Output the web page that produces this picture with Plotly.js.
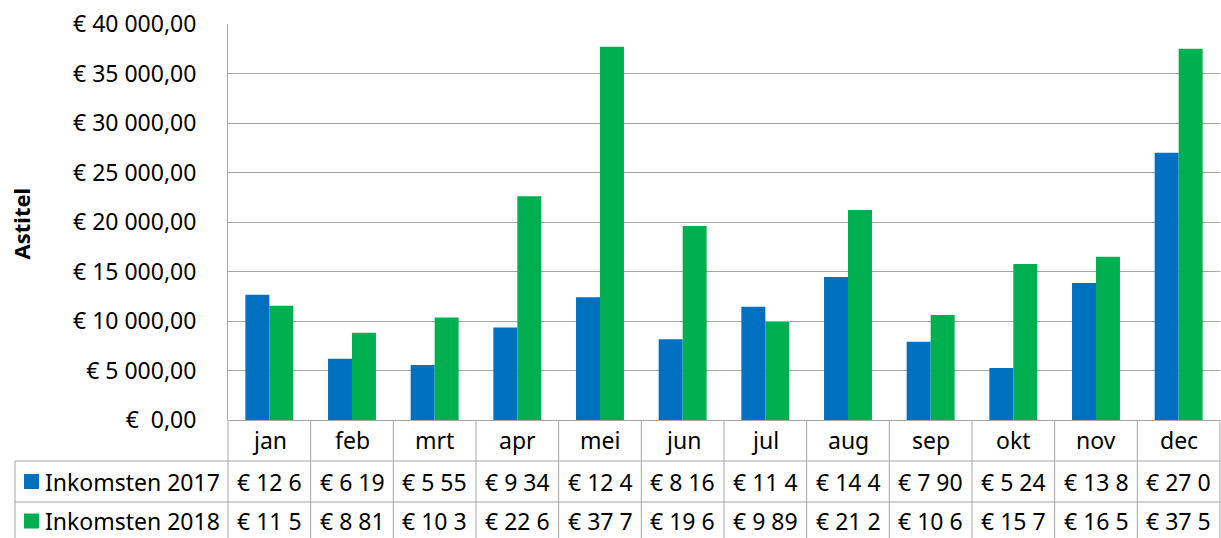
<!DOCTYPE html>
<html>
<head>
<meta charset="utf-8">
<script src="https://cdn.plot.ly/plotly-3.0.1.min.js"></script>
<style>html,body{margin:0;padding:0;background:#fff;}#chart{width:1221px;height:538px;}</style>
</head>
<body>
<div id="chart"></div>
<script>
const months = ['jan','feb','mrt','apr','mei','jun','jul','aug','sep','okt','nov','dec'];
const seriesNames = ['Inkomsten 2017','Inkomsten 2018'];
const inkomsten2017 = [12650, 6190, 5550, 9340, 12400, 8160, 11450, 14450, 7900, 5240, 13850, 27000];
const inkomsten2018 = [11550, 8810, 10350, 22600, 37700, 19600, 9890, 21200, 10600, 15750, 16500, 37500];
const yTickVals = [0, 5000, 10000, 15000, 20000, 25000, 30000, 35000, 40000];
const colors = ['#0070C0', '#00B050'];
const yTitle = 'Astitel';

const FONT = '"Noto Sans", "Open Sans", sans-serif';
const FS = 23;
const NB = '\u00a0';

function fmtEuro(v) {
  const whole = Math.round(v).toString().replace(/\B(?=(\d{3})+(?!\d))/g, NB);
  return '€' + NB + whole + ',00';
}
function yLabel(v) {
  return v === 0 ? '€' + NB + NB + '0,00' : fmtEuro(v);
}
function cellText(v) {
  return fmtEuro(v).slice(0, 6);
}

const W = 1221, H = 538;
const mL = 228, mR = 1, mT = 24, mB = 118;
const plotW = W - mL - mR, plotH = H - mT - mB;
const row1Top = 461, row2Top = 502, tableLeft = 15;
function py(px) { return (H - mB - px) / plotH; }   // pixel y -> paper y
function pxX(px) { return (px - mL) / plotW; }     // pixel x -> paper x

const gridCol = '#a6a6a6';

const traces = [inkomsten2017, inkomsten2018].map((vals, i) => ({
  type: 'bar',
  name: seriesNames[i],
  x: months,
  y: vals,
  marker: { color: colors[i], line: { width: 0 } },
  hoverinfo: 'x+y'
}));

const shapes = [];
for (let k = 0; k <= months.length; k++) {
  shapes.push({ type: 'line', xref: 'x domain', yref: 'paper',
    x0: k / months.length, x1: k / months.length, y0: py(H), y1: 0,
    line: { color: gridCol, width: 1 } });
}
shapes.push({ type: 'line', xref: 'paper', yref: 'paper',
  x0: pxX(tableLeft), x1: pxX(tableLeft), y0: py(H), y1: py(row1Top),
  line: { color: gridCol, width: 1 } });
[row1Top, row2Top].forEach(r => {
  shapes.push({ type: 'line', xref: 'paper', yref: 'paper',
    x0: pxX(tableLeft), x1: 1, y0: py(r), y1: py(r),
    line: { color: gridCol, width: 1 } });
});
const rowCenters = [481.5, 521];
rowCenters.forEach((c, i) => {
  shapes.push({ type: 'rect', xref: 'paper', yref: 'paper',
    x0: pxX(24), x1: pxX(39), y0: py(c + 7.5), y1: py(c - 7.5),
    fillcolor: colors[i], line: { width: 0 } });
});

const annotations = [];
months.forEach(m => {
  annotations.push({ xref: 'x', yref: 'paper', x: m, y: py(440), text: m,
    showarrow: false, xanchor: 'center', yanchor: 'middle',
    font: { family: FONT, size: FS, color: '#000' } });
});
seriesNames.forEach((n, i) => {
  annotations.push({ xref: 'paper', yref: 'paper', x: pxX(43), y: py(rowCenters[i]), text: n,
    showarrow: false, xanchor: 'left', yanchor: 'middle',
    font: { family: FONT, size: FS, color: '#000' } });
});
[inkomsten2017, inkomsten2018].forEach((vals, i) => {
  vals.forEach((v, j) => {
    annotations.push({ xref: 'x', yref: 'paper', x: months[j], y: py(rowCenters[i]), text: cellText(v),
      showarrow: false, xanchor: 'center', yanchor: 'middle',
      font: { family: FONT, size: FS, color: '#000' } });
  });
});
annotations.push({ xref: 'paper', yref: 'paper', x: pxX(20.5), y: py(224), text: '<b>' + yTitle + '</b>',
  textangle: -90, showarrow: false, xanchor: 'center', yanchor: 'middle',
  font: { family: FONT, size: 22, color: '#000' } });

const layout = {
  width: W, height: H,
  margin: { l: mL, r: mR, t: mT, b: mB, pad: 0 },
  paper_bgcolor: '#fff', plot_bgcolor: '#fff',
  barmode: 'group', bargap: 0.42, bargroupgap: 0,
  showlegend: false,
  font: { family: FONT, size: FS, color: '#000' },
  xaxis: {
    type: 'category', range: [-0.5, months.length - 0.5],
    showticklabels: false, ticks: '', showgrid: false, zeroline: false,
    showline: false, fixedrange: true
  },
  yaxis: {
    range: [0, 40000], tickvals: yTickVals, ticktext: yTickVals.map(yLabel),
    showgrid: true, gridcolor: gridCol, gridwidth: 1,
    zeroline: true, zerolinecolor: gridCol, zerolinewidth: 1,
    showline: true, linecolor: gridCol, linewidth: 1,
    ticks: '', ticklabelstandoff: 26,
    tickfont: { family: FONT, size: FS, color: '#000' },
    fixedrange: true
  },
  shapes: shapes,
  annotations: annotations
};

Plotly.newPlot('chart', traces, layout, { displayModeBar: false, staticPlot: true });
</script>
</body>
</html>
